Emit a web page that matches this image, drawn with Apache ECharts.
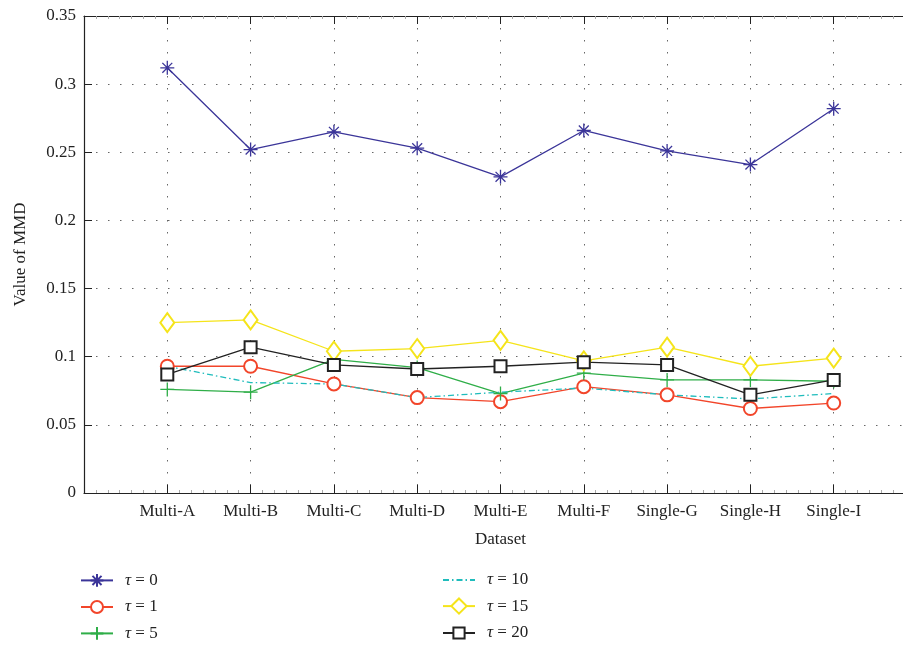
<!DOCTYPE html>
<html>
<head>
<meta charset="utf-8">
<script src="https://cdn.jsdelivr.net/npm/echarts@6/dist/echarts.min.js"></script>
<style>
  html, body { margin: 0; padding: 0; background: #fff; }
  #chart { width: 903px; height: 646px; }
</style>
</head>
<body>
<div id="chart"></div>
<script>
// 数据集名称
const datasets = ['Multi-A', 'Multi-B', 'Multi-C', 'Multi-D', 'Multi-E', 'Multi-F', 'Single-G', 'Single-H', 'Single-I'];

// 各 tau 取值下的 MMD
const tau0  = [0.312, 0.252, 0.265, 0.253, 0.232, 0.266, 0.251, 0.241, 0.282];
const tau1  = [0.093, 0.093, 0.080, 0.070, 0.067, 0.078, 0.072, 0.062, 0.066];
const tau5  = [0.076, 0.074, 0.098, 0.092, 0.073, 0.088, 0.083, 0.083, 0.082];
const tau10 = [0.093, 0.081, 0.080, 0.070, 0.074, 0.077, 0.072, 0.069, 0.073];
const tau15 = [0.125, 0.127, 0.104, 0.106, 0.112, 0.097, 0.107, 0.093, 0.099];
const tau20 = [0.087, 0.107, 0.094, 0.091, 0.093, 0.096, 0.094, 0.072, 0.083];

const yTicks = [0, 0.05, 0.1, 0.15, 0.2, 0.25, 0.3, 0.35];

const FONT = 'Liberation Serif';

// 星号 / 加号 用路径描边
const starPath = 'path://M0,-10L0,10M-10,0L10,0M-7.07,-7.07L7.07,7.07M-7.07,7.07L7.07,-7.07';
const plusPath = 'path://M0,-10L0,10M-10,0L10,0';

const seriesDefs = [
  { name: 'τ = 0',  values: tau0,  color: '#3b3599', symbol: starPath, size: 14, hollow: true, legendH: 16 },
  { name: 'τ = 1',  values: tau1,  color: '#f2452a', symbol: 'emptyCircle', size: 13, legendH: 15 },
  { name: 'τ = 5',  values: tau5,  color: '#2fae48', symbol: plusPath, size: 14, hollow: true, legendH: 16 },
  { name: 'τ = 10', values: tau10, color: '#1fbcbc', symbol: 'none', size: 0, dash: [6, 3, 1.5, 3], legendH: 16 },
  { name: 'τ = 15', values: tau15, color: '#f5e41a', symbol: 'emptyDiamond', size: [14, 19], legendH: 19 },
  { name: 'τ = 20', values: tau20, color: '#222222', symbol: 'emptyRect', size: 12, legendH: 14 }
];

const chart = echarts.init(document.getElementById('chart'));

const series = seriesDefs.map(d => ({
  name: d.name,
  type: 'line',
  data: d.values.map((v, i) => [i + 1, v]),
  symbol: d.symbol,
  symbolSize: d.size,
  showSymbol: d.symbol !== 'none',
  lineStyle: { color: d.color, width: 1.3, type: d.dash || 'solid' },
  itemStyle: d.hollow
    ? { color: 'none', borderColor: d.color, borderWidth: 1.3 }
    : { color: d.color, borderColor: d.color, borderWidth: 1.3 },
  emphasis: { disabled: true },
  z: 3
}));

// 图例：每项单独放置，两列（行中心约 580 / 607 / 633）
const legendLeft = [80, 80, 80, 442, 442, 442];
const rowCenter = [580, 607, 633, 580, 607, 633];
const legends = seriesDefs.map((d, i) => ({
  left: legendLeft[i],
  top: rowCenter[i] - Math.max(d.legendH, 17) / 2,
  padding: 0,
  itemWidth: 32,
  itemHeight: d.legendH,
  data: [d.symbol === 'none' ? { name: d.name, itemStyle: { opacity: 0 } } : d.name],
  formatter: function (name) {
    return '{i|τ}' + name.slice(1);
  },
  textStyle: {
    fontFamily: FONT,
    fontSize: 17,
    color: '#222',
    padding: [0, 0, 0, 7],
    rich: {
      i: { fontFamily: FONT, fontStyle: 'italic', fontSize: 17, color: '#222' }
    }
  }
}));

const option = {
  animation: false,
  backgroundColor: '#fff',
  grid: { left: 84, top: 16, width: 833, height: 477, outerBoundsMode: 'none' },
  legend: legends,
  xAxis: [{
    type: 'value',
    min: 0,
    max: 10,
    interval: 1,
    name: 'Dataset',
    nameLocation: 'middle',
    nameGap: 38,
    nameTextStyle: { fontFamily: FONT, fontSize: 17, color: '#222' },
    axisLine: { lineStyle: { color: '#222', width: 1.2 } },
    axisTick: { inside: true, length: 8, lineStyle: { color: '#222' } },
    minorTick: { show: true, splitNumber: 7, length: 3, lineStyle: { color: '#aaa' } },
    axisLabel: {
      fontFamily: FONT, fontSize: 17, color: '#222', margin: 10,
      formatter: function (v) { return datasets[v - 1] || ''; }
    },
    splitLine: { show: true, lineStyle: { color: '#666', type: [1.5, 10.5], width: 1 } }
  }, {
    type: 'value',
    position: 'top',
    min: 0,
    max: 10,
    interval: 1,
    axisLine: { show: true, lineStyle: { color: '#222', width: 1.2 } },
    axisTick: { inside: true, length: 8, lineStyle: { color: '#222' } },
    minorTick: { show: true, splitNumber: 7, length: 3, lineStyle: { color: '#aaa' } },
    axisLabel: { show: false },
    splitLine: { show: false }
  }],
  yAxis: {
    type: 'value',
    min: 0,
    max: 0.35,
    interval: 0.05,
    name: 'Value of MMD',
    nameLocation: 'middle',
    nameGap: 55,
    nameTextStyle: { fontFamily: FONT, fontSize: 17, color: '#222' },
    axisLine: { show: true, lineStyle: { color: '#222', width: 1.2 } },
    axisTick: { show: true, inside: true, length: 8, lineStyle: { color: '#222' } },
    axisLabel: {
      fontFamily: FONT, fontSize: 17, color: '#222', margin: 8,
      formatter: function (v) {
        const t = yTicks.find(x => Math.abs(x - v) < 1e-9);
        return t === undefined ? '' : String(t);
      }
    },
    splitLine: { show: true, lineStyle: { color: '#666', type: [1.5, 10.5], width: 1 } }
  },
  series: series
};

chart.setOption(option);
</script>
</body>
</html>
